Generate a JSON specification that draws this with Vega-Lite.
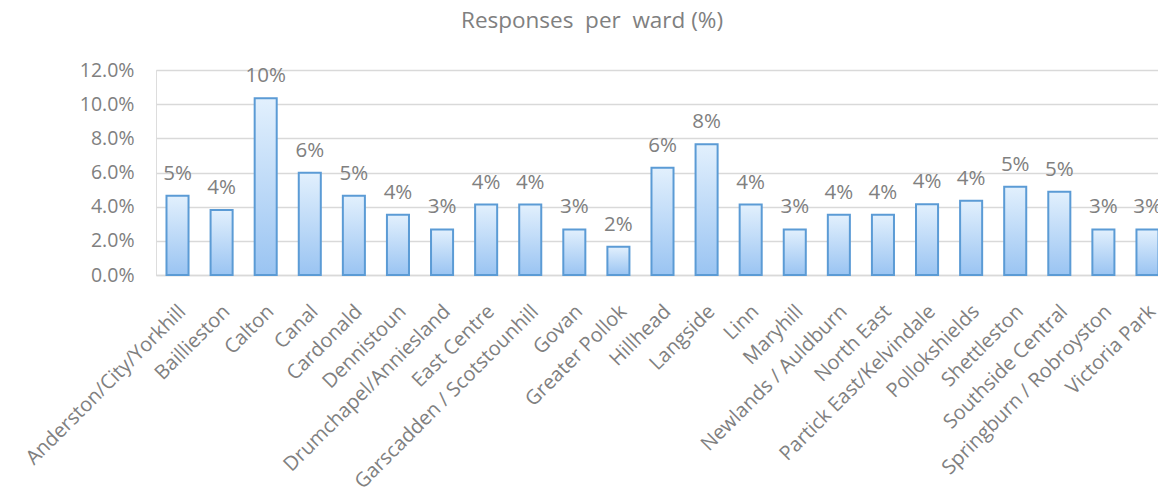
{
  "$schema": "https://vega.github.io/schema/vega-lite/v6.json",
  "autosize": {"type": "none"},
  "padding": {"left": 156, "top": 70, "right": 0, "bottom": 218},
  "width": 1002,
  "height": 205,
  "background": "white",
  "title": {
    "text": "Responses\u00a0 per\u00a0 ward (%)",
    "font": "Open Sans",
    "fontSize": 22.5,
    "fontWeight": "normal",
    "color": "#808080",
    "anchor": "middle",
    "frame": "group",
    "dx": -65,
    "offset": 28
  },
  "data": {
    "values": [
      {"ward": "Anderston/City/Yorkhill", "share": 0.0464},
      {"ward": "Baillieston", "share": 0.038},
      {"ward": "Calton", "share": 0.1035},
      {"ward": "Canal", "share": 0.0599},
      {"ward": "Cardonald", "share": 0.0464},
      {"ward": "Dennistoun", "share": 0.0352},
      {"ward": "Drumchapel/Anniesland", "share": 0.0267},
      {"ward": "East Centre", "share": 0.0412},
      {"ward": "Garscadden / Scotstounhill", "share": 0.0412},
      {"ward": "Govan", "share": 0.0267},
      {"ward": "Greater Pollok", "share": 0.0166},
      {"ward": "Hillhead", "share": 0.0628},
      {"ward": "Langside", "share": 0.0765},
      {"ward": "Linn", "share": 0.0412},
      {"ward": "Maryhill", "share": 0.0267},
      {"ward": "Newlands / Auldburn", "share": 0.0352},
      {"ward": "North East", "share": 0.0352},
      {"ward": "Partick East/Kelvindale", "share": 0.0414},
      {"ward": "Pollokshields", "share": 0.0435},
      {"ward": "Shettleston", "share": 0.0517},
      {"ward": "Southside Central", "share": 0.0488},
      {"ward": "Springburn / Robroyston", "share": 0.0267},
      {"ward": "Victoria Park", "share": 0.0267}
    ]
  },
  "encoding": {
    "x": {
      "field": "ward",
      "type": "nominal",
      "sort": null,
      "title": null,
      "scale": {"type": "band", "range": [0, 1013], "paddingInner": 0.5, "paddingOuter": 0.238},
      "axis": {
        "labelAngle": -45,
        "labelAlign": "right",
        "labelBaseline": "top",
        "labelFont": "Open Sans",
        "labelFontSize": 20,
        "labelColor": "#808080",
        "labelPadding": 26,
        "labelOffset": -2,
        "labelOverlap": false,
        "labelLimit": 400,
        "labelBound": false,
        "ticks": false,
        "domainColor": "#d9d9d9",
        "domainWidth": 1.5,
        "grid": false
      }
    },
    "y": {
      "field": "share",
      "type": "quantitative",
      "title": null,
      "scale": {"domain": [0, 0.12], "nice": false},
      "axis": {
        "values": [0, 0.02, 0.04, 0.06, 0.08, 0.1, 0.12],
        "format": ".1%",
        "labelFont": "Open Sans",
        "labelFontSize": 19.5,
        "labelColor": "#808080",
        "labelPadding": 22,
        "ticks": false,
        "domain": false,
        "grid": true,
        "gridColor": "#d9d9d9",
        "gridWidth": 1.5
      }
    }
  },
  "layer": [
    {
      "mark": {
        "type": "bar",
        "stroke": "#5b9bd5",
        "strokeWidth": 2,
        "color": {
          "gradient": "linear",
          "x1": 0, "y1": 0, "x2": 0, "y2": 1,
          "stops": [
            {"offset": 0, "color": "#e2f0fd"},
            {"offset": 1, "color": "#9ac4f2"}
          ]
        }
      }
    },
    {
      "mark": {
        "type": "text",
        "baseline": "alphabetic",
        "dy": -16,
        "font": "Open Sans",
        "fontSize": 20.5,
        "color": "#808080"
      },
      "encoding": {
        "text": {"field": "share", "type": "quantitative", "format": ".0%"}
      }
    }
  ]
}
